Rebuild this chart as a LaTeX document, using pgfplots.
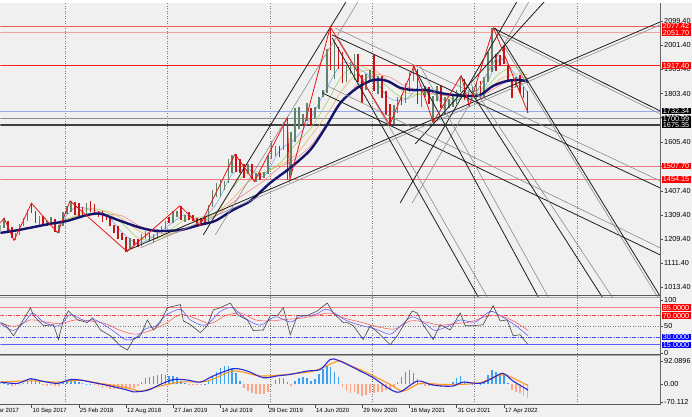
\documentclass[border=0pt]{standalone}
\usepackage{fontspec}
\setmainfont{Liberation Sans}
\usepackage{pgfplots}
\usepackage{pgfplotstable}
\pgfplotsset{compat=1.18}
\definecolor{bgc}{RGB}{240,240,240}
\definecolor{cup}{RGB}{95,130,105}
\definecolor{cdn}{RGB}{200,20,20}
\definecolor{navyma}{RGB}{20,20,110}
\definecolor{ma8}{RGB}{110,160,240}
\definecolor{ma16}{RGB}{150,210,80}
\definecolor{ma24}{RGB}{245,170,70}
\definecolor{ma32}{RGB}{240,120,130}
\definecolor{zz}{RGB}{235,20,20}
\definecolor{tl}{RGB}{30,30,30}
\definecolor{tlg}{RGB}{140,140,140}
\definecolor{hpos}{RGB}{60,160,240}
\definecolor{hneg}{RGB}{255,165,135}
\definecolor{macdl}{RGB}{40,40,210}
\definecolor{sigl}{RGB}{255,150,30}
\definecolor{rsig}{RGB}{70,70,70}
\definecolor{rsib}{RGB}{100,100,255}
\definecolor{rsir}{RGB}{255,100,100}
\definecolor{boxred}{RGB}{255,0,0}
\definecolor{boxblue}{RGB}{0,0,255}
\definecolor{gridc}{RGB}{120,120,120}

\pgfplotstableread{
x lo hi
-0.5 1245 1270
3.4 1255 1296
15.2 1205 1236
19.2 1228 1272
23.1 1262 1295
27.1 1283 1330
38.9 1268 1306
46.8 1265 1286
50.7 1267 1299
58.6 1236 1268
62.5 1262 1320
66.5 1313 1344
70.4 1322 1366
86.2 1308 1356
129.5 1172 1214
141.3 1182 1233
145.3 1210 1243
153.1 1196 1232
157.1 1211 1250
161 1235 1262
165 1252 1285
172.8 1276 1326
176.8 1300 1325
184.7 1280 1310
208.3 1275 1348
212.2 1340 1410
216.2 1382 1439
220.1 1384 1452
224.1 1412 1448
228 1440 1535
231.9 1480 1555
247.7 1477 1516
255.6 1445 1478
263.5 1458 1485
267.4 1475 1555
271.3 1535 1611
275.3 1548 1590
283.2 1575 1689
291 1470 1645
295 1605 1745
298.9 1660 1747
302.9 1680 1722
306.8 1690 1765
314.7 1705 1750
318.6 1740 1790
322.6 1790 1818
326.5 1805 1985
334.4 1865 2015
346.2 1850 1920
350.1 1882 1933
354.1 1860 1965
365.9 1820 1885
369.8 1860 1900
377.7 1802 1875
393.5 1680 1755
397.4 1725 1790
405.3 1765 1845
409.2 1808 1890
413.2 1855 1916
421.1 1750 1815
425 1790 1834
432.9 1687 1795
436.8 1772 1834
444.7 1722 1788
448.6 1746 1782
452.6 1750 1800
456.5 1760 1820
460.5 1812 1877
468.3 1753 1810
472.3 1790 1832
476.2 1782 1845
484.1 1790 1870
488 1850 1975
492 1890 2070
515.6 1830 1870
}\upbars

\pgfplotstableread{
x lo hi
7.4 1245 1285
11.3 1215 1258
31 1318 1357
34.9 1275 1325
42.8 1265 1306
54.6 1240 1292
74.3 1307 1362
78.3 1303 1358
82.2 1302 1341
90.1 1320 1365
94 1310 1353
98 1302 1326
101.9 1282 1325
105.9 1287 1308
109.8 1262 1303
113.7 1237 1270
117.7 1211 1265
121.6 1205 1236
125.6 1160 1221
133.4 1187 1212
137.4 1180 1211
149.2 1204 1237
168.9 1276 1299
180.7 1290 1346
188.6 1287 1320
192.5 1284 1310
196.5 1266 1296
200.4 1266 1298
204.4 1267 1300
235.9 1483 1557
239.8 1480 1535
243.8 1459 1517
251.6 1455 1518
259.5 1450 1480
279.2 1547 1591
287.1 1451 1704
310.7 1670 1745
330.4 1900 2075
338.3 1905 1992
342.3 1848 1975
358 1850 1965
362 1764 1880
373.8 1815 1959
381.7 1785 1875
385.6 1717 1815
389.5 1676 1760
401.4 1756 1798
417.1 1760 1903
428.9 1760 1832
440.8 1745 1835
464.4 1777 1862
480.2 1780 1855
495.9 1895 1966
499.9 1915 1962
503.8 1925 1998
507.7 1850 1920
511.7 1787 1860
519.6 1805 1880
523.5 1785 1830
527.4 1725 1815
}\dnbars

\pgfplotstableread{
x ma8 ma16 ma24 ma32
58.6 1269 1282 1281 1274
74.3 1338 1304 1301 1295
90.1 1331 1335 1313 1308
105.9 1310 1321 1326 1312
121.6 1239 1275 1293 1305
137.4 1193 1216 1247 1268
153.1 1222 1208 1218 1241
168.9 1268 1245 1228 1231
184.7 1310 1289 1267 1248
200.4 1289 1300 1289 1272
216.2 1356 1323 1318 1306
231.9 1476 1416 1374 1358
247.7 1495 1486 1442 1404
263.5 1466 1481 1479 1448
279.2 1571 1519 1511 1502
295 1620 1596 1552 1538
310.7 1706 1663 1632 1591
326.5 1826 1766 1717 1681
342.3 1929 1878 1820 1770
358 1906 1918 1887 1842
373.8 1861 1884 1899 1881
389.5 1784 1823 1850 1870
405.3 1780 1782 1808 1833
421.1 1836 1808 1800 1815
436.8 1794 1815 1803 1799
452.6 1768 1781 1799 1795
468.3 1811 1790 1791 1802
484.1 1830 1821 1803 1801
499.9 1944 1887 1862 1838
515.6 1878 1911 1884 1866
527.4 1809 1855 1880 1868
}\ribbon

\pgfplotstableread{
x v
-0.5 5
3.4 8
7.4 3
11.3 -5
15.2 -8
19.2 -4
23.1 5
27.1 15
31 25
34.9 20
38.9 8
42.8 -3
46.8 -6
50.7 -4
54.6 -8
58.6 -6
62.5 5
66.5 12
70.4 18
74.3 15
78.3 8
82.2 4
86.2 3
90.1 2
94 -4
98 -8
101.9 -12
105.9 -15
109.8 -18
113.7 -19
117.7 -18
121.6 -17
125.6 -16
129.5 -15
133.4 -12
137.4 -6
141.3 10
145.3 25
149.2 30
153.1 33
157.1 36
161 39
165 36
168.9 34
172.8 32
176.8 28
180.7 15
184.7 4
188.6 -3
192.5 -4
196.5 -3
200.4 -1
204.4 2
208.3 12
212.2 30
216.2 48
220.1 62
224.1 70
228 71
231.9 65
235.9 45
239.8 15
243.8 -12
247.7 -25
251.6 -32
255.6 -37
259.5 -39
263.5 -36
267.4 -28
271.3 -5
275.3 18
279.2 26
283.2 24
287.1 8
291 -5
295 15
298.9 25
302.9 30
306.8 25
310.7 12
314.7 22
318.6 40
322.6 60
326.5 71
330.4 68
334.4 50
338.3 28
342.3 -10
346.2 -25
350.1 -32
354.1 -30
358 -38
362 -45
365.9 -42
369.8 -35
373.8 -32
377.7 -30
381.7 -28
385.6 -22
389.5 -18
393.5 -10
397.4 8
401.4 30
405.3 50
409.2 58
413.2 45
417.1 20
421.1 -4
425 -6
428.9 -7
432.9 -8
436.8 -6
440.8 -7
444.7 -5
448.6 -4
452.6 8
456.5 25
460.5 33
464.4 12
468.3 -3
472.3 3
476.2 4
480.2 2
484.1 15
488 35
492 58
495.9 50
499.9 40
503.8 35
507.7 5
511.7 -20
515.6 -28
519.6 -35
523.5 -45
527.4 -52
}\hist

\pgfplotsset{panel/.style={scale only axis, width=660pt, xmin=0, xmax=660,
  axis line style={draw=none}, clip bounding box=upper bound,
  ytick pos=right, yticklabel pos=right, tick align=outside, major tick length=3pt,
  ytick style={draw=black!70, line width=0.4pt}, xtick style={draw=none},
  xtick={64.5,166.9,269.4,371.8,474.3,576.7}, xticklabels={},
  xmajorgrids, major x grid style={gridc, dash pattern=on 1pt off 1.5pt, line width=0.4pt},
  yticklabel style={font=\fontsize{7.3}{8}\selectfont, inner sep=1pt, text=black}}}
\tikzset{pbox/.style={anchor=west, inner xsep=1.2pt, inner ysep=0.5pt,
  text height=5.3pt, text depth=0.2pt,
  font=\fontsize{7.3}{7.3}\selectfont, text=white, xshift=1.5pt},
  dlab/.style={anchor=north west, inner sep=0pt, font=\fontsize{6}{7}\selectfont, xshift=1pt, yshift=-3.5pt}}

\begin{document}
\begin{tikzpicture}
\fill[bgc] (0pt,0pt) rectangle (692pt,414pt);

% ================= MAIN PRICE PANEL =================
\begin{axis}[panel, at={(0pt,120pt)}, anchor=south west, height=294pt,
  ymin=975.5, ymax=2172.7,
  ytick={2099.4,2001.4,1903.4,1803.4,1705.4,1605.4,1507.4,1407.4,1309.4,1209.4,1111.4,1013.4},
  yticklabels={2099.40,2001.40,1903.40,1803.40,1705.40,1605.40,1507.40,1407.40,1309.40,1209.40,1111.40,1013.40}]
\addplot[draw={rgb,255:red,240;green,90;blue,90}, line width=1.5pt] coordinates {(0,2077.42)(660,2077.42)};
\addplot[draw={rgb,255:red,245;green,160;blue,160}, line width=1.2pt] coordinates {(0,2051.70)(660,2051.70)};
\addplot[draw={rgb,255:red,255;green,30;blue,30}, line width=1.1pt] coordinates {(0,1917.40)(660,1917.40)};
\addplot[draw={rgb,255:red,240;green,120;blue,120}, line width=0.9pt] coordinates {(0,1507.70)(660,1507.70)};
\addplot[draw={rgb,255:red,240;green,120;blue,120}, line width=0.9pt] coordinates {(0,1454.15)(660,1454.15)};
\addplot[draw={rgb,255:red,150;green,170;blue,240}, line width=0.8pt] coordinates {(0,1732.34)(660,1732.34)};
\addplot[draw=black!45, line width=1.4pt] coordinates {(0,1700.99)(660,1700.99)};
\addplot[draw=black!75, line width=1.8pt] coordinates {(0,1675.35)(660,1675.35)};
\addplot[ma32, line width=0.5pt, smooth] table[x=x,y=ma32] {\ribbon};
\addplot[ma24, line width=0.5pt, smooth] table[x=x,y=ma24] {\ribbon};
\addplot[ma16, line width=0.5pt, smooth] table[x=x,y=ma16] {\ribbon};
\addplot[ma8, line width=0.5pt, smooth] table[x=x,y=ma8] {\ribbon};
\addplot[cup, line width=1.6pt, quiver={u=0, v=\thisrow{hi}-\thisrow{lo}}] table[x=x, y=lo] {\upbars};
\addplot[cdn, line width=1.6pt, quiver={u=0, v=\thisrow{hi}-\thisrow{lo}}] table[x=x, y=lo] {\dnbars};
\addplot[navyma, line width=2.4pt, smooth] coordinates {
(0,1236)(13,1244)(30,1257)(50,1273)(67,1285)(87,1309)(100,1314)(117,1289)(140,1257)(157,1244)(180,1248)(200,1269)(215,1285)(233,1330)(250,1366)(270,1440)(290,1501)(310,1574)(325,1664)(340,1765)(357,1827)(373,1859)(387,1855)(400,1827)(413,1818)(427,1818)(440,1806)(453,1798)(467,1794)(480,1798)(493,1835)(507,1855)(520,1859)(528,1851)};
\addplot[tl, line width=0.8pt] coordinates {(126,1162.8)(680,2130.2)};
\addplot[tlg, line width=0.6pt] coordinates {(140,1175.1)(680,2118)};
\addplot[tl, line width=0.8pt] coordinates {(203,1228)(355,2239)};
\addplot[tlg, line width=0.6pt] coordinates {(215,1228)(367,2239)};
\addplot[tl, line width=0.8pt] coordinates {(400,1358.3)(526,2243)};
\addplot[tlg, line width=0.6pt] coordinates {(412,1358.3)(538,2243)};
\addplot[tl, line width=0.8pt] coordinates {(415,1598.5)(553,2217.6)};
\addplot[tl, line width=0.8pt] coordinates {(332,2042.4)(660,1419.4)};
\addplot[tlg, line width=0.6pt] coordinates {(335,2070.9)(660,1447.9)};
\addplot[tl, line width=0.8pt] coordinates {(493,2070.9)(660,1732.9)};
\addplot[tlg, line width=0.6pt] coordinates {(497,2050.5)(660,1720.7)};
\addplot[tl, line width=0.8pt] coordinates {(322,1806.2)(660,1146.5)};
\addplot[tlg, line width=0.6pt] coordinates {(325,1838.8)(660,1175.1)};
\addplot[tl, line width=0.8pt] coordinates {(332,2030.2)(481.5,950)};
\addplot[tlg, line width=0.6pt] coordinates {(338,2030.2)(490.6,950)};
\addplot[tl, line width=0.8pt] coordinates {(413,1916.2)(541.4,950)};
\addplot[tlg, line width=0.6pt] coordinates {(420,1916.2)(551.4,950)};
\addplot[tl, line width=0.8pt] coordinates {(462,1867.3)(606,950)};
\addplot[tlg, line width=0.6pt] coordinates {(470,1847)(616.2,950)};
\addplot[tl, line width=0.8pt] coordinates {(495,2070.9)(664.3,950)};
\addplot[tlg, line width=0.6pt] coordinates {(505,1989.5)(661.3,950)};
\addplot[zz, line width=0.8pt] coordinates {
(-3,1262)(3.6,1296)(13.5,1205)(31,1357)(57.2,1236)(69.6,1366)(126.7,1160)(179.5,1346)(199.6,1266)(234.7,1557)(254,1445)(287,1704)(289.5,1451)(330,2075)(389.5,1676)(413.8,1916)(433,1687)(461,1877)(469,1753)(493.4,2070)(528,1725)};
\coordinate (b1) at (axis cs:660,2077.42);
\coordinate (b2) at (axis cs:660,2051.70);
\coordinate (b3) at (axis cs:660,1917.40);
\coordinate (b4) at (axis cs:660,1732.34);
\coordinate (b5) at (axis cs:660,1700.99);
\coordinate (b6) at (axis cs:660,1675.35);
\coordinate (b7) at (axis cs:660,1507.70);
\coordinate (b8) at (axis cs:660,1454.15);
\end{axis}
\node[pbox, fill=boxred] at (b1) {2077.42};
\node[pbox, fill=boxred] at (b2) {2051.70};
\node[pbox, fill=boxred] at (b3) {1917.40};
\node[pbox, fill=black] at (b4) {1732.34};
\node[pbox, fill=black] at (b5) {1700.99};
\node[pbox, fill=black] at (b6) {1675.35};
\node[pbox, fill=boxred] at (b7) {1507.70};
\node[pbox, fill=boxred] at (b8) {1454.15};

% ================= RSI PANEL =================
\begin{axis}[panel, at={(0pt,63pt)}, anchor=south west, height=56pt,
  ymin=-1.9, ymax=103.8, ytick={100,50,0}, yticklabels={100,50,0}]
\addplot[draw={rgb,255:red,255;green,130;blue,130}, line width=0.8pt] coordinates {(0,85)(660,85)};
\addplot[draw={rgb,255:red,255;green,60;blue,60}, line width=0.6pt, dash pattern=on 4pt off 1.5pt on 1pt off 1.5pt] coordinates {(0,70)(660,70)};
\addplot[draw=gray, line width=0.5pt, dash pattern=on 1pt off 1.5pt] coordinates {(0,50)(660,50)};
\addplot[draw={rgb,255:red,70;green,70;blue,255}, line width=0.6pt, dash pattern=on 4pt off 1.5pt on 1pt off 1.5pt] coordinates {(0,30)(660,30)};
\addplot[draw={rgb,255:red,90;green,90;blue,255}, line width=0.8pt] coordinates {(0,15)(660,15)};
\addplot[rsir, line width=0.6pt, smooth] coordinates {
(0,55)(15,50)(30,62)(45,58)(60,55)(75,62)(90,60)(105,55)(120,42)(135,35)(150,42)(165,55)(180,72)(195,65)(210,55)(225,70)(240,75)(255,62)(270,60)(285,63)(300,65)(315,70)(330,75)(345,65)(360,58)(380,48)(395,45)(410,60)(425,58)(440,52)(455,55)(470,58)(485,68)(500,70)(515,58)(528,42)};
\addplot[rsib, line width=0.6pt, smooth] coordinates {
(0,55)(13,42)(25,60)(32,75)(43,58)(55,50)(63,58)(70,72)(85,60)(95,62)(110,45)(125,25)(135,28)(145,45)(155,50)(165,70)(180,82)(190,62)(205,52)(220,78)(232,85)(245,65)(260,52)(275,68)(290,58)(300,68)(315,72)(327,82)(345,62)(360,52)(375,45)(390,35)(400,50)(412,68)(425,55)(435,42)(450,52)(460,62)(475,58)(490,78)(500,70)(515,52)(528,32)};
\addplot[rsig, line width=0.6pt] coordinates {
(0,57)(5,53)(13,32)(20,53)(30,85)(33,70)(43,51)(53,53)(58,25)(63,62)(68,79)(77,62)(87,57)(92,66)(100,43)(110,32)(120,13)(127,5)(133,25)(140,32)(147,62)(153,43)(160,57)(167,85)(180,91)(183,60)(190,53)(200,38)(207,51)(213,81)(220,85)(230,94)(237,72)(247,62)(253,42)(263,43)(270,70)(277,70)(283,85)(290,34)(297,70)(307,70)(317,79)(327,94)(333,75)(343,57)(347,57)(353,51)(363,25)(370,51)(380,34)(390,15)(397,32)(403,51)(412,79)(417,75)(423,53)(433,25)(440,53)(450,43)(460,75)(465,51)(473,51)(483,53)(493,89)(500,60)(507,62)(513,32)(520,34)(528,15)};
\coordinate (r1) at (axis cs:660,85);
\coordinate (r2) at (axis cs:660,70);
\coordinate (r3) at (axis cs:660,30);
\coordinate (r4) at (axis cs:660,15);
\end{axis}
\node[pbox, fill=boxred] at (r1) {85.0000};
\node[pbox, fill=boxred] at (r2) {70.0000};
\node[pbox, fill=boxblue] at (r3) {30.0000};
\node[pbox, fill=boxblue] at (r4) {15.0000};

% ================= MACD PANEL =================
\begin{axis}[panel, at={(0pt,12pt)}, anchor=south west, height=49pt,
  ymin=-78.9, ymax=111.5, ytick={92.0896,0,-70.112}, yticklabels={92.0896,0.00,-70.112},
  xmajorgrids=false,
  xtick={31,78.28,125.56,172.84,220.12,267.4,314.68,361.96,409.24,456.52,503.8}, xticklabels={},
  xtick pos=left, xtick style={draw=black!70, line width=0.4pt},
  minor xtick={64.5,166.9,269.4,371.8,474.3,576.7}, xminorgrids, minor tick length=0pt,
  minor x grid style={gridc, dash pattern=on 1pt off 1.5pt, line width=0.4pt}]
\addplot[ycomb, hpos, line width=1.6pt, mark=none] table[x=x,y=v, restrict expr to domain={\thisrow{v}}{0:500}] {\hist};
\addplot[ycomb, hneg, line width=1.6pt, mark=none] table[x=x,y=v, restrict expr to domain={\thisrow{v}}{-500:0}] {\hist};
\addplot[sigl, line width=1.1pt, smooth] coordinates {
(0,9)(30,14)(57,9)(80,16)(100,4)(127,-13)(140,-26)(160,-6)(180,9)(207,13)(233,52)(260,33)(287,39)(313,52)(333,84)(340,91)(350,74)(367,45)(390,0)(403,-26)(420,4)(440,0)(460,0)(480,7)(497,33)(507,35)(528,-5)};
\addplot[macdl, line width=1.1pt, smooth] coordinates {
(0,9)(17,4)(30,22)(40,14)(57,4)(70,19)(80,17)(93,7)(110,-6)(127,-22)(133,-29)(147,-23)(160,0)(173,19)(187,17)(200,9)(213,33)(233,61)(247,52)(263,26)(277,33)(290,39)(307,52)(320,58)(330,97)(337,95)(350,72)(360,52)(373,26)(390,-19)(400,-29)(417,13)(430,0)(440,-6)(453,-6)(463,9)(480,4)(493,26)(503,43)(513,13)(528,-22)};
\coordinate (d0) at (axis cs:-16.3,-78.9);
\coordinate (d1) at (axis cs:31,-78.9);
\coordinate (d2) at (axis cs:78.28,-78.9);
\coordinate (d3) at (axis cs:125.56,-78.9);
\coordinate (d4) at (axis cs:172.84,-78.9);
\coordinate (d5) at (axis cs:220.12,-78.9);
\coordinate (d6) at (axis cs:267.4,-78.9);
\coordinate (d7) at (axis cs:314.68,-78.9);
\coordinate (d8) at (axis cs:361.96,-78.9);
\coordinate (d9) at (axis cs:409.24,-78.9);
\coordinate (d10) at (axis cs:456.52,-78.9);
\coordinate (d11) at (axis cs:503.8,-78.9);
\end{axis}
\node[dlab, overlay] at (d0) {26 Mar 2017};
\node[dlab] at (d1) {10 Sep 2017};
\node[dlab] at (d2) {25 Feb 2018};
\node[dlab] at (d3) {12 Aug 2018};
\node[dlab] at (d4) {27 Jan 2019};
\node[dlab] at (d5) {14 Jul 2019};
\node[dlab] at (d6) {29 Dec 2019};
\node[dlab] at (d7) {14 Jun 2020};
\node[dlab] at (d8) {29 Nov 2020};
\node[dlab] at (d9) {16 May 2021};
\node[dlab] at (d10) {31 Oct 2021};
\node[dlab] at (d11) {17 Apr 2022};

\draw[black!60, line width=0.8pt] (660pt,12pt) -- (660pt,414pt);
\draw[black!65, line width=1pt] (0pt,121.3pt) -- (660pt,121.3pt);
\draw[black!35, line width=0.8pt] (0pt,119.6pt) -- (660pt,119.6pt);
\draw[black!65, line width=1pt] (0pt,62.3pt) -- (660pt,62.3pt);
\draw[black!35, line width=0.6pt] (0pt,61pt) -- (660pt,61pt);
\draw[black!65, line width=0.8pt] (0pt,12pt) -- (660pt,12pt);
\end{tikzpicture}
\end{document}
